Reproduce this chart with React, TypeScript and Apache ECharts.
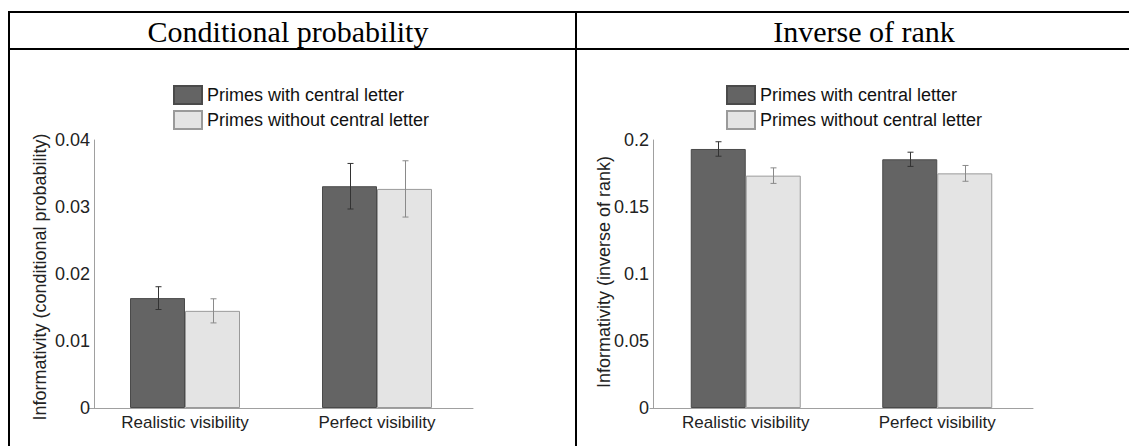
import React, { useEffect, useRef } from "react";
import * as echarts from "echarts";

const categories = ["Realistic visibility", "Perfect visibility"];
const seriesNames = ["Primes with central letter", "Primes without central letter"];

// Left panel: conditional probability
const condWith = [0.0164, 0.0331];
const condWithErr = [0.0017, 0.0034];
const condWithout = [0.0145, 0.0327];
const condWithoutErr = [0.0018, 0.0042];
const condTicks = { min: 0, max: 0.04, interval: 0.01 };

// Right panel: inverse of rank
const rankWith = [0.1933, 0.1856];
const rankWithErr = [0.0054, 0.0053];
const rankWithout = [0.1734, 0.1751];
const rankWithoutErr = [0.0058, 0.0059];
const rankTicks = { min: 0, max: 0.2, interval: 0.05 };

const titles = ["Conditional probability", "Inverse of rank"];
const yNames = [
  "Informativity (conditional probability)",
  "Informativity (inverse of rank)",
];

const BAR_W = 55;
const DARK = "#646464";
const LIGHT = "#e4e4e4";
const SANS = "'Liberation Sans', Arial, sans-serif";
const SERIF = "'Liberation Serif', 'Times New Roman', serif";

export default function App() {
  const ref = useRef<HTMLDivElement>(null);

  useEffect(() => {
    if (!ref.current) return;
    const chart = echarts.init(ref.current, undefined, { renderer: "svg" });

    const errData = (vals: number[], errs: number[], side: number) =>
      vals.map((v, i) => [i, v, errs[i], side]);

    const errSeries = (idx: number, data: number[][]) => ({
      type: "custom",
      xAxisIndex: idx,
      yAxisIndex: idx,
      z: 10,
      silent: true,
      data,
      encode: { x: 0, y: 1 },
      renderItem: (_p: any, api: any) => {
        const cat = api.value(0);
        const v = api.value(1);
        const e = api.value(2);
        const side = api.value(3);
        const top = api.coord([cat, v + e]);
        const bot = api.coord([cat, v - e]);
        const x = Math.round(top[0] + (side * BAR_W) / 2) + 0.5;
        const stroke = side < 0 ? "#333333" : "#8a8a8a";
        const cap = 3;
        return {
          type: "group",
          children: [
            { type: "line", shape: { x1: x, y1: top[1], x2: x, y2: bot[1] }, style: { stroke, lineWidth: 1 } },
            { type: "line", shape: { x1: x - cap, y1: top[1], x2: x + cap, y2: top[1] }, style: { stroke, lineWidth: 1 } },
            { type: "line", shape: { x1: x - cap, y1: bot[1], x2: x + cap, y2: bot[1] }, style: { stroke, lineWidth: 1 } },
          ],
        };
      },
    });

    const barSeries = (idx: number, name: string, data: number[], dark: boolean) => ({
      type: "bar",
      name,
      xAxisIndex: idx,
      yAxisIndex: idx,
      data,
      barWidth: BAR_W,
      barGap: "0%",
      itemStyle: {
        color: dark ? DARK : LIGHT,
        borderColor: dark ? "#4a4a4a" : "#9a9a9a",
        borderWidth: 1,
      },
    });

    const yAxis = (idx: number, t: { min: number; max: number; interval: number }, offset: number) => ({
      type: "value",
      gridIndex: idx,
      min: t.min,
      max: t.max,
      interval: t.interval,
      offset,
      axisLine: { show: true, lineStyle: { color: "#a0a0a0", width: 1 } },
      axisTick: { show: false },
      splitLine: { show: false },
      axisLabel: { fontFamily: SANS, fontSize: 18, color: "#222", margin: 4 },
    });

    const xAxis = (idx: number) => ({
      type: "category",
      gridIndex: idx,
      data: categories,
      axisLine: { show: true, lineStyle: { color: "#a0a0a0", width: 1 } },
      axisTick: { show: false },
      axisLabel: { fontFamily: SANS, fontSize: 17, color: "#222", margin: 6 },
    });

    const legend = (left: number) => ({
      left,
      top: 85,
      padding: 0,
      orient: "vertical",
      itemWidth: 28,
      itemHeight: 18,
      itemGap: 5,
      icon: "rect",
      data: seriesNames,
      selectedMode: false,
      textStyle: { fontFamily: SANS, fontSize: 18, color: "#111" },
    });

    const lineStyle = { stroke: "#000", lineWidth: 2 };
    const yName = (text: string, x: number, y: number) => ({
      type: "text",
      x,
      y,
      rotation: Math.PI / 2,
      style: { text, font: `18px ${SANS}`, fill: "#222", align: "center", verticalAlign: "middle" },
      silent: true,
    });

    chart.setOption({
      animation: false,
      backgroundColor: "#fff",
      grid: [
        { left: 89, right: 1129 - 473, top: 140, bottom: 446 - 408 },
        { left: 650, right: 1129 - 1033, top: 140, bottom: 446 - 408 },
      ],
      legend: [legend(173), legend(726)],
      xAxis: [xAxis(0), xAxis(1)],
      yAxis: [yAxis(0, condTicks, -5), yAxis(1, rankTicks, -3)],
      series: [
        barSeries(0, seriesNames[0], condWith, true),
        barSeries(0, seriesNames[1], condWithout, false),
        barSeries(1, seriesNames[0], rankWith, true),
        barSeries(1, seriesNames[1], rankWithout, false),
        errSeries(0, [...errData(condWith, condWithErr, -1), ...errData(condWithout, condWithoutErr, 1)]),
        errSeries(1, [...errData(rankWith, rankWithErr, -1), ...errData(rankWithout, rankWithoutErr, 1)]),
      ],
      graphic: [
        { type: "line", shape: { x1: 8, y1: 12, x2: 1129, y2: 12 }, style: lineStyle, silent: true },
        { type: "line", shape: { x1: 8, y1: 49, x2: 1129, y2: 49 }, style: lineStyle, silent: true },
        { type: "line", shape: { x1: 9, y1: 11, x2: 9, y2: 446 }, style: lineStyle, silent: true },
        { type: "line", shape: { x1: 576, y1: 11, x2: 576, y2: 446 }, style: lineStyle, silent: true },
        {
          type: "text",
          x: 288,
          y: 31,
          style: { text: titles[0], font: `30px ${SERIF}`, fill: "#000", align: "center", verticalAlign: "middle" },
          silent: true,
        },
        {
          type: "text",
          x: 864,
          y: 31,
          style: { text: titles[1], font: `30px ${SERIF}`, fill: "#000", align: "center", verticalAlign: "middle" },
          silent: true,
        },
        yName(yNames[0], 40, 277),
        yName(yNames[1], 604, 272),
      ],
    });

    return () => chart.dispose();
  }, []);

  return (
    <div
      ref={ref}
      style={{ position: "absolute", left: 0, top: 0, width: 1129, height: 446, background: "#fff" }}
    />
  );
}
